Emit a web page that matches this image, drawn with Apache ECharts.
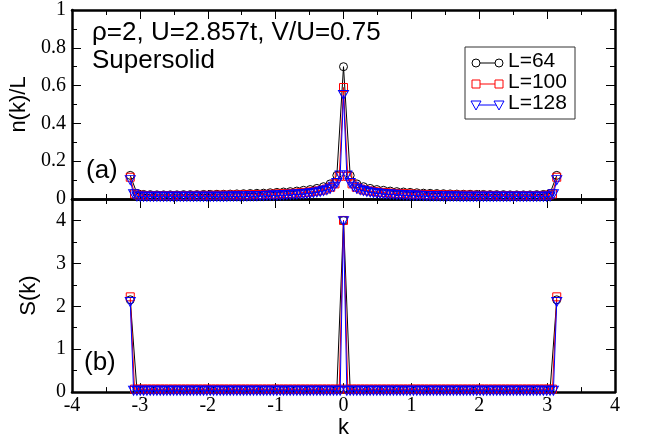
<!DOCTYPE html>
<html>
<head>
<meta charset="utf-8">
<script src="https://cdn.jsdelivr.net/npm/echarts@6/dist/echarts.min.js"></script>
<style>html,body{margin:0;padding:0;background:#fff}#c{width:648px;height:440px}</style>
</head>
<body>
<div id="c"></div>
<script>
// system sizes
const sizes = [64, 100, 128];
const seriesNames = ['L=64', 'L=100', 'L=128'];
const xTicks = [-4, -3, -2, -1, 0, 1, 2, 3, 4];

// n(k)/L, points k = 2*pi*n/L, n = -L/2 .. L/2
const nk64 = [
 0.125, 0.03, 0.024, 0.023, 0.022, 0.022, 0.022, 0.022, 0.023, 0.023,
 0.023, 0.024, 0.024, 0.025, 0.025, 0.026, 0.027, 0.028, 0.029, 0.030,
 0.031, 0.033, 0.035, 0.037, 0.039, 0.042, 0.046, 0.050, 0.056, 0.065,
 0.080, 0.125,
 0.70,
 0.125, 0.080, 0.065, 0.056, 0.050, 0.046, 0.042, 0.039, 0.037, 0.035,
 0.033, 0.031, 0.030, 0.029, 0.028, 0.027, 0.026, 0.025, 0.025, 0.024,
 0.024, 0.023, 0.023, 0.023, 0.022, 0.022, 0.022, 0.022, 0.023, 0.024,
 0.03, 0.125
];
const nk100 = [
 0.115, 0.027, 0.020, 0.019, 0.018, 0.018, 0.018, 0.018, 0.018, 0.018,
 0.018, 0.018, 0.018, 0.018, 0.018, 0.019, 0.019, 0.019, 0.019, 0.019,
 0.020, 0.020, 0.020, 0.020, 0.021, 0.021, 0.021, 0.022, 0.022, 0.023,
 0.023, 0.024, 0.024, 0.025, 0.026, 0.027, 0.028, 0.029, 0.030, 0.031,
 0.033, 0.035, 0.037, 0.040, 0.043, 0.047, 0.053, 0.062, 0.080, 0.120,
 0.59,
 0.120, 0.080, 0.062, 0.053, 0.047, 0.043, 0.040, 0.037, 0.035, 0.033,
 0.031, 0.030, 0.029, 0.028, 0.027, 0.026, 0.025, 0.024, 0.024, 0.023,
 0.023, 0.022, 0.022, 0.021, 0.021, 0.021, 0.020, 0.020, 0.020, 0.020,
 0.019, 0.019, 0.019, 0.019, 0.019, 0.018, 0.018, 0.018, 0.018, 0.018,
 0.018, 0.018, 0.018, 0.018, 0.018, 0.018, 0.019, 0.020, 0.027,
 0.115
];
const nk128 = [
 0.100, 0.025, 0.014, 0.012, 0.012, 0.012, 0.012, 0.012, 0.012, 0.012,
 0.012, 0.012, 0.012, 0.012, 0.012, 0.012, 0.012, 0.012, 0.012, 0.012,
 0.012, 0.012, 0.012, 0.012, 0.012, 0.012, 0.012, 0.012, 0.012, 0.012,
 0.013, 0.013, 0.013, 0.013, 0.014, 0.014, 0.015, 0.015, 0.015, 0.016,
 0.016, 0.017, 0.017, 0.018, 0.018, 0.019, 0.020, 0.021, 0.022, 0.023,
 0.024, 0.025, 0.026, 0.028, 0.030, 0.032, 0.035, 0.038, 0.042, 0.047,
 0.054, 0.065, 0.085, 0.125,
 0.55,
 0.125, 0.085, 0.065, 0.054, 0.047, 0.042, 0.038, 0.035, 0.032, 0.030,
 0.028, 0.026, 0.025, 0.024, 0.023, 0.022, 0.021, 0.020, 0.019, 0.018,
 0.018, 0.017, 0.017, 0.016, 0.016, 0.015, 0.015, 0.015, 0.014, 0.014,
 0.013, 0.013, 0.013, 0.013, 0.012, 0.012, 0.012, 0.012, 0.012, 0.012,
 0.012, 0.012, 0.012, 0.012, 0.012, 0.012, 0.012, 0.012, 0.012, 0.012,
 0.012, 0.012, 0.012, 0.012, 0.012, 0.012, 0.012, 0.012, 0.012, 0.012,
 0.012, 0.014, 0.025, 0.100
];

// S(k)
const sk64 = [
 2.15,
 0.05, 0.05, 0.05, 0.05, 0.05, 0.05, 0.05, 0.05, 0.05, 0.05,
 0.05, 0.05, 0.05, 0.05, 0.05, 0.05, 0.05, 0.05, 0.05, 0.05,
 0.05, 0.05, 0.05, 0.05, 0.05, 0.05, 0.05, 0.05, 0.05, 0.05, 0.05,
 4.0,
 0.05, 0.05, 0.05, 0.05, 0.05, 0.05, 0.05, 0.05, 0.05, 0.05,
 0.05, 0.05, 0.05, 0.05, 0.05, 0.05, 0.05, 0.05, 0.05, 0.05,
 0.05, 0.05, 0.05, 0.05, 0.05, 0.05, 0.05, 0.05, 0.05, 0.05, 0.05,
 2.15
];
const sk100 = [
 2.22,
 0.07, 0.07, 0.07, 0.07, 0.07, 0.07, 0.07, 0.07, 0.07, 0.07,
 0.07, 0.07, 0.07, 0.07, 0.07, 0.07, 0.07, 0.07, 0.07, 0.07,
 0.07, 0.07, 0.07, 0.07, 0.07, 0.07, 0.07, 0.07, 0.07, 0.07,
 0.07, 0.07, 0.07, 0.07, 0.07, 0.07, 0.07, 0.07, 0.07, 0.07,
 0.07, 0.07, 0.07, 0.07, 0.07, 0.07, 0.07, 0.07, 0.07,
 4.0,
 0.07, 0.07, 0.07, 0.07, 0.07, 0.07, 0.07, 0.07, 0.07, 0.07,
 0.07, 0.07, 0.07, 0.07, 0.07, 0.07, 0.07, 0.07, 0.07, 0.07,
 0.07, 0.07, 0.07, 0.07, 0.07, 0.07, 0.07, 0.07, 0.07, 0.07,
 0.07, 0.07, 0.07, 0.07, 0.07, 0.07, 0.07, 0.07, 0.07, 0.07,
 0.07, 0.07, 0.07, 0.07, 0.07, 0.07, 0.07, 0.07, 0.07,
 2.22
];
const sk128 = [
 2.10,
 0.03, 0.03, 0.03, 0.03, 0.03, 0.03, 0.03, 0.03, 0.03, 0.03,
 0.03, 0.03, 0.03, 0.03, 0.03, 0.03, 0.03, 0.03, 0.03, 0.03,
 0.03, 0.03, 0.03, 0.03, 0.03, 0.03, 0.03, 0.03, 0.03, 0.03,
 0.03, 0.03, 0.03, 0.03, 0.03, 0.03, 0.03, 0.03, 0.03, 0.03,
 0.03, 0.03, 0.03, 0.03, 0.03, 0.03, 0.03, 0.03, 0.03, 0.03,
 0.03, 0.03, 0.03, 0.03, 0.03, 0.03, 0.03, 0.03, 0.03, 0.03,
 0.03, 0.03, 0.03,
 3.98,
 0.03, 0.03, 0.03, 0.03, 0.03, 0.03, 0.03, 0.03, 0.03, 0.03,
 0.03, 0.03, 0.03, 0.03, 0.03, 0.03, 0.03, 0.03, 0.03, 0.03,
 0.03, 0.03, 0.03, 0.03, 0.03, 0.03, 0.03, 0.03, 0.03, 0.03,
 0.03, 0.03, 0.03, 0.03, 0.03, 0.03, 0.03, 0.03, 0.03, 0.03,
 0.03, 0.03, 0.03, 0.03, 0.03, 0.03, 0.03, 0.03, 0.03, 0.03,
 0.03, 0.03, 0.03, 0.03, 0.03, 0.03, 0.03, 0.03, 0.03, 0.03,
 0.03, 0.03, 0.03,
 2.10
];

const nkData = [nk64, nk100, nk128];
const skData = [sk64, sk100, sk128];

function pairs(L, vals) {
  return vals.map((v, i) => [2 * Math.PI * (i - L / 2) / L, v]);
}

const colors = ['#000000', '#ff0000', '#0000ff'];
const symbols = ['circle', 'rect', 'triangle'];
const symSizes = [8, 8, [10, 9]];
const rotates = [0, 0, 180];

const serif = 'Liberation Serif';
const sans = 'Liberation Sans';

function xAx(gridIndex, pos, labels) {
  return {
    type: 'value', gridIndex, position: pos, min: -4, max: 4, interval: 1,
    axisLine: { show: true, onZero: false, lineStyle: { color: '#000', width: 2.5 } },
    axisTick: { show: true, inside: true, length: 9, lineStyle: { color: '#000', width: 1 } },
    minorTick: { show: true, splitNumber: 2, length: 5, lineStyle: { color: '#000', width: 1 } },
    axisLabel: { show: labels, color: '#000', fontFamily: serif, fontSize: 20, margin: 4,
      formatter: v => xTicks.includes(v) ? String(v) : '' },
    splitLine: { show: false },
    name: labels ? 'k' : '', nameLocation: 'middle', nameGap: 19,
    nameTextStyle: { color: '#000', fontFamily: sans, fontSize: 22 }
  };
}
function yAx(gridIndex, pos, max, interval, labels, name) {
  return {
    type: 'value', gridIndex, position: pos, min: 0, max, interval,
    axisLine: { show: true, onZero: false, lineStyle: { color: '#000', width: 2.5 } },
    axisTick: { show: true, inside: true, length: 9, lineStyle: { color: '#000', width: 1 } },
    minorTick: { show: true, splitNumber: 2, length: 5, lineStyle: { color: '#000', width: 1 } },
    axisLabel: { show: labels, color: '#000', fontFamily: serif, fontSize: 20, margin: 6,
      formatter: v => (max > 2 && v > 4.01) ? '' : String(v),
      showMaxLabel: max < 2 },
    splitLine: { show: false },
    name: name || '', nameLocation: 'middle', nameGap: 32,
    nameTextStyle: { color: '#000', fontFamily: sans, fontSize: 22 }
  };
}

const series = [];
sizes.forEach((L, i) => {
  series.push({
    type: 'line', name: seriesNames[i], xAxisIndex: 0, yAxisIndex: 0,
    data: pairs(L, nkData[i]), symbol: symbols[i], symbolSize: symSizes[i], symbolRotate: rotates[i],
    showAllSymbol: true, clip: false,
    lineStyle: { color: colors[i], width: 1 },
    itemStyle: { color: 'rgba(0,0,0,0)', borderColor: colors[i], borderWidth: 1 },
    z: 2 + i
  });
});
sizes.forEach((L, i) => {
  series.push({
    type: 'line', name: seriesNames[i], xAxisIndex: 2, yAxisIndex: 2,
    data: pairs(L, skData[i]), symbol: symbols[i], symbolSize: symSizes[i], symbolRotate: rotates[i],
    showAllSymbol: true, clip: false,
    lineStyle: { color: colors[i], width: 1 },
    itemStyle: { color: 'rgba(0,0,0,0)', borderColor: colors[i], borderWidth: 1 },
    z: 2 + i
  });
});

// legend drawn with graphic elements
const legRows = [63, 84, 105];
const legX = [476, 499];
const legend = [
  { type: 'rect', shape: { x: 465, y: 47, width: 110, height: 72 }, style: { fill: '#fff', stroke: '#333', lineWidth: 1 }, z: 10 }
];
legRows.forEach((y, i) => {
  legend.push({ type: 'line', shape: { x1: legX[0], y1: y, x2: legX[1], y2: y }, style: { stroke: colors[i], lineWidth: 1 }, z: 11 });
  legX.forEach(x => {
    if (i === 0) legend.push({ type: 'circle', shape: { cx: x, cy: y, r: 4 }, style: { fill: '#fff', stroke: colors[i], lineWidth: 1 }, z: 12 });
    if (i === 1) legend.push({ type: 'rect', shape: { x: x - 4, y: y - 4, width: 8, height: 8 }, style: { fill: '#fff', stroke: colors[i], lineWidth: 1 }, z: 12 });
    if (i === 2) legend.push({ type: 'polygon', shape: { points: [[x - 5, y - 4], [x + 5, y - 4], [x, y + 5]] }, style: { fill: '#fff', stroke: colors[i], lineWidth: 1 }, z: 12 });
  });
  legend.push({ type: 'text', left: 508, top: y - 12, style: { text: seriesNames[i], fontFamily: sans, fontSize: 21, fill: '#000' }, z: 12 });
});

const texts = [
  { type: 'text', left: 92, top: 20, style: { text: 'ρ=2, U=2.857t, V/U=0.75', fontFamily: sans, fontSize: 26, fill: '#000' }, z: 10 },
  { type: 'text', left: 92, top: 48, style: { text: 'Supersolid', fontFamily: sans, fontSize: 26, fill: '#000' }, z: 10 },
  { type: 'text', left: 86, top: 158, style: { text: '(a)', fontFamily: sans, fontSize: 26, fill: '#000' }, z: 10 },
  { type: 'text', left: 84, top: 350, style: { text: '(b)', fontFamily: sans, fontSize: 26, fill: '#000' }, z: 10 }
];

const chart = echarts.init(document.getElementById('c'), null, { renderer: 'canvas' });
chart.setOption({
  animation: false,
  backgroundColor: '#fff',
  grid: [
    { left: 72, right: 33, top: 5, height: 194 },
    { left: 72, right: 33, top: 199, height: 194 }
  ],
  xAxis: [xAx(0, 'bottom', false), xAx(0, 'top', false), xAx(1, 'bottom', true), xAx(1, 'top', false)],
  yAxis: [
    yAx(0, 'left', 1, 0.2, true, 'n(k)/L'),
    yAx(0, 'right', 1, 0.2, false),
    yAx(1, 'left', 4.5, 1, true, 'S(k)'),
    yAx(1, 'right', 4.5, 1, false)
  ],
  series,
  graphic: texts.concat(legend)
});
</script>
</body>
</html>
